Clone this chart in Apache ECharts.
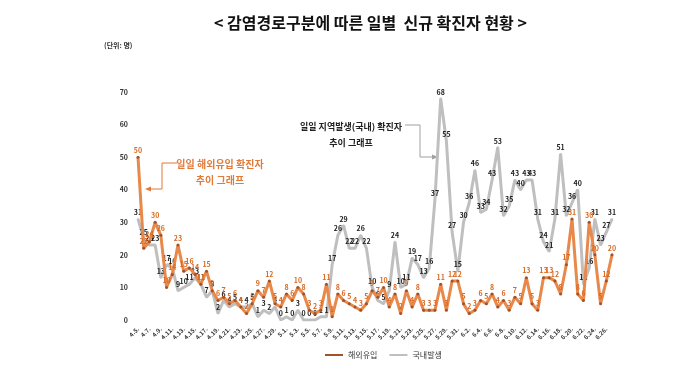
<!DOCTYPE html>
<html>
<head>
<meta charset="utf-8">
<script src="https://cdn.jsdelivr.net/npm/echarts@6/dist/echarts.min.js"></script>
<style>
  html, body { margin: 0; padding: 0; background: #fff; }
  #chart { width: 680px; height: 375px; }
</style>
</head>
<body>
<div id="chart"></div>
<script>
// 날짜 (4.5 ~ 6.27)
var dates = [
  '4.5.', '4.6.', '4.7.', '4.8.', '4.9.', '4.10.', '4.11.', '4.12.', '4.13.', '4.14.', '4.15.', '4.16.', '4.17.', '4.18.', '4.19.', '4.20.',
  '4.21.', '4.22.', '4.23.', '4.24.', '4.25.', '4.26.', '4.27.', '4.28.', '4.29.', '4.30.',
  '5.1.', '5.2.', '5.3.', '5.4.', '5.5.', '5.6.', '5.7.', '5.8.', '5.9.', '5.10.', '5.11.', '5.12.', '5.13.', '5.14.', '5.15.', '5.16.',
  '5.17.', '5.18.', '5.19.', '5.20.', '5.21.', '5.22.', '5.23.', '5.24.', '5.25.', '5.26.', '5.27.', '5.28.', '5.29.', '5.30.', '5.31.',
  '6.1.', '6.2.', '6.3.', '6.4.', '6.5.', '6.6.', '6.7.', '6.8.', '6.9.', '6.10.', '6.11.', '6.12.', '6.13.', '6.14.', '6.15.', '6.16.',
  '6.17.', '6.18.', '6.19.', '6.20.', '6.21.', '6.22.', '6.23.', '6.24.', '6.25.', '6.26.', '6.27.'
]

// 해외유입
var imported = [
  50, 22, 24, 30, 26, 10, 14, 23, 15, 16, 14, 11, 15, 9, 6, 7,
  5, 6, 4, 2, 5, 9, 7, 12, 5, 4,
  8, 6, 10, 8, 3, 2, 3, 11, 1, 8, 6, 5, 4, 3, 5, 9,
  7, 10, 4, 8, 2, 9, 4, 8, 3, 3, 3, 11, 3, 12, 12,
  5, 2, 3, 6, 5, 8, 4, 6, 3, 7, 5, 13, 5, 3, 13, 13,
  12, 8, 17, 31, 8, 6, 30, 20, 5, 12, 20
]

// 국내발생
var domestic = [
  31, 25, 23, 23, 13, 17, 16, 9, 10, 11, 13, 11, 7, 9, 2, 6,
  4, 5, 4, 4, 5, 1, 3, 2, 4, 0,
  1, 0, 3, 0, 0, 0, 1, 1, 17, 26, 29, 22, 22, 26, 22, 10,
  6, 5, 9, 24, 10, 11, 19, 17, 13, 16, 37, 68, 55, 27, 15,
  30, 36, 46, 33, 34, 43, 53, 32, 35, 43, 40, 43, 43, 31, 24, 21,
  31, 51, 32, 36, 40, 11, 16, 31, 23, 27, 31
]

var font = '"Noto Sans CJK KR", "Noto Sans", sans-serif'
var chart = echarts.init(document.getElementById('chart'))

var option = {
  animation: false,
  backgroundColor: '#fff',
  textStyle: { fontFamily: font },
  title: {
    text: '< 감염경로구분에 따른 일별  신규 확진자 현황 >',
    left: 209,
    top: 10,
    textStyle: { fontFamily: font, fontSize: 16, fontWeight: 'bold', color: '#111' }
  },
  legend: {
    top: 346,
    left: 320,
    itemWidth: 18,
    itemHeight: 2,
    itemGap: 12,
    icon: 'rect',
    textStyle: { fontFamily: font, fontSize: 8, color: '#333' },
    data: ['해외유입', '국내발생']
  },
  grid: {
    left: 138,
    right: 68,
    top: 92,
    bottom: 55
  },
  xAxis: {
    type: 'category',
    boundaryGap: false,
    data: dates,
    axisLine: { show: false },
    axisTick: { show: false },
    axisLabel: {
      interval: 1,
      rotate: 45,
      margin: 8,
      fontSize: 6,
      fontWeight: 'bold',
      color: '#333'
    }
  },
  yAxis: {
    type: 'value',
    min: 0,
    max: 70,
    interval: 10,
    splitLine: { show: false },
    axisLine: { show: false },
    axisTick: { show: false },
    axisLabel: {
      fontSize: 7,
      fontWeight: 'bold',
      color: '#333',
      margin: 10
    }
  },
  graphic: [
    { type: 'text', left: 104, top: 42, style: { text: '(단위: 명)', font: 'bold 7px ' + font, fill: '#333' } },
    // 해외유입 설명
    { type: 'text', x: 220, y: 156, style: { text: '일일 해외유입 확진자\n추이 그래프', font: 'bold 10px ' + font, fill: '#E07B39', align: 'center', lineHeight: 16 } },
    { type: 'polyline', shape: { points: [[177, 163], [162, 163], [162, 189], [150, 189]] }, style: { stroke: '#E07B39', lineWidth: 1, fill: null } },
    { type: 'polygon', shape: { points: [[145, 189], [151, 186.5], [151, 191.5]] }, style: { fill: '#E07B39' } },
    // 국내발생 설명
    { type: 'text', x: 351, y: 119, style: { text: '일일 지역발생(국내) 확진자\n추이 그래프', font: 'bold 9px ' + font, fill: '#222', align: 'center', lineHeight: 16 } },
    { type: 'polyline', shape: { points: [[405, 125], [420, 125], [420, 157], [433, 157]] }, style: { stroke: '#A0A0A0', lineWidth: 1, fill: null } },
    { type: 'polygon', shape: { points: [[438, 157], [432, 154.5], [432, 159.5]] }, style: { fill: '#A0A0A0' } }
  ],
  series: [
    {
      name: '국내발생',
      type: 'line',
      data: domestic,
      z: 2,
      symbol: 'circle',
      symbolSize: 2,
      itemStyle: { color: '#BFBFBF' },
      lineStyle: { color: '#BFBFBF', width: 3 },
      label: {
        show: true,
        position: 'top',
        distance: 2,
        fontSize: 7,
        fontWeight: 'bold',
        color: '#222'
      }
    },
    {
      name: '해외유입',
      type: 'line',
      data: imported,
      z: 3,
      symbol: 'circle',
      symbolSize: 3,
      itemStyle: { color: '#A0522D' },
      lineStyle: { color: '#E8884A', width: 3 },
      label: {
        show: true,
        position: 'top',
        distance: 2,
        fontSize: 7,
        fontWeight: 'bold',
        color: '#D86A22'
      }
    }
  ]
}

chart.setOption(option)
</script>
</body>
</html>
